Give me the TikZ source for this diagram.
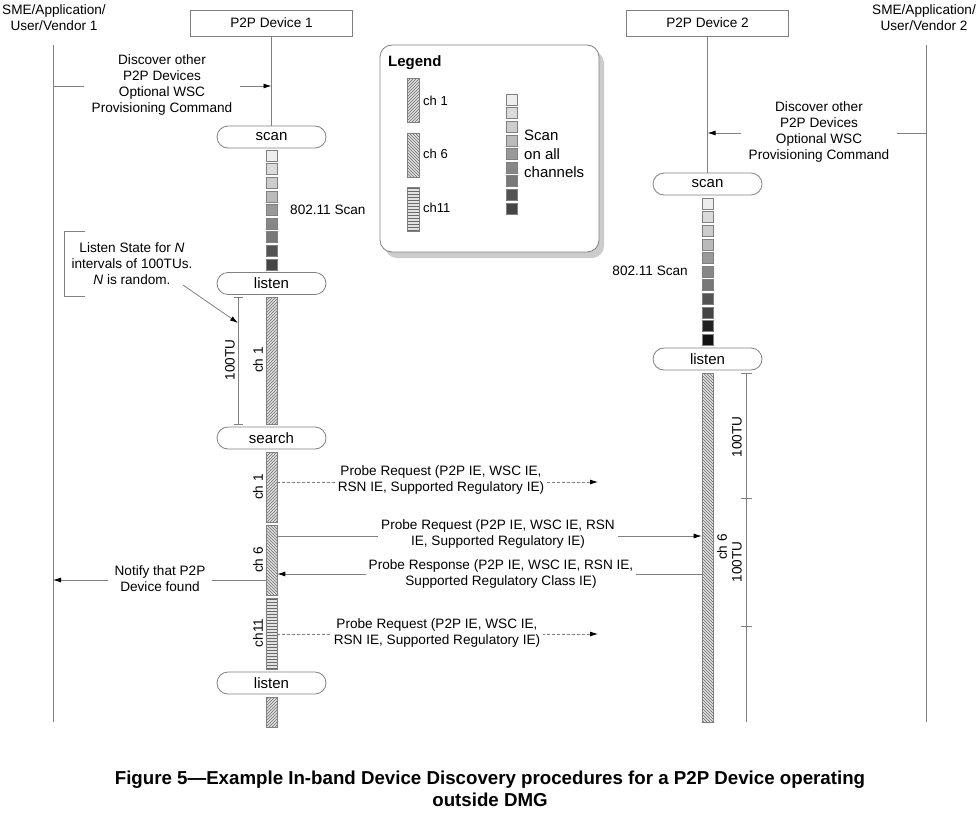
\documentclass[tikz,border=0pt]{standalone}
\usepackage{fontspec}
\setmainfont{Liberation Sans}
\usetikzlibrary{arrows.meta,patterns,shapes.misc}
\definecolor{lg}{HTML}{808080}
\definecolor{hatch}{HTML}{6A6A6A}
\definecolor{barbg}{HTML}{E2E2E2}
\newcommand\lblfont{\fontsize{13.6}{16}\selectfont}
\newcommand\boxfont{\fontsize{15}{17}\selectfont}
\newcommand\legfont{\fontsize{15}{18.5}\selectfont}
\newcommand\capfont{\fontsize{18.7}{22}\selectfont\bfseries}
\begin{document}
\begin{tikzpicture}[x=1pt,y=-1pt,
  life/.style={draw=lg, line width=0.8pt},
  msg/.style={draw=lg, line width=0.8pt, -{Latex[length=8pt,width=5pt,color=black,fill=black]}},
  dmsg/.style={msg, dash pattern=on 3pt off 2pt},
  lbl/.style={font=\lblfont, align=center, fill=white, inner xsep=3pt, inner ysep=1pt},
  txt/.style={font=\lblfont, align=center, inner sep=0pt},
  devbox/.style={draw=lg, line width=0.8pt, minimum width=162pt, minimum height=26pt, font=\lblfont, inner sep=0pt},
  state/.style={draw=lg, line width=0.8pt, rounded rectangle, minimum width=109pt, minimum height=22pt, font=\boxfont, inner sep=0pt},
  bar/.style={draw=lg, line width=0.6pt, minimum width=11pt, inner sep=0pt, anchor=north, preaction={fill=barbg}, pattern color=hatch},
  chA/.style={bar, pattern=north east lines},
  chB/.style={bar, pattern=north west lines},
  chC/.style={bar, pattern=horizontal lines},
  sq/.style={draw=lg, line width=0.6pt, minimum size=11pt, inner sep=0pt},
  rot/.style={font=\lblfont, rotate=90, inner sep=0pt}
]
\useasboundingbox (0,0) rectangle (979,819);

% ---------- headers ----------
\node[txt] (sme1) at (54,18) {SME/Application/\\User/Vendor 1};
\node[txt] (sme2) at (924,18) {SME/Application/\\User/Vendor 2};
\node[devbox] (dev1) at (271.5,23) {P2P Device 1};
\node[devbox] (dev2) at (707.5,23) {P2P Device 2};

% SME lifelines
\coordinate (s1t) at (53,45);  \coordinate (s1b) at (53,722);
\coordinate (s2t) at (926,45); \coordinate (s2b) at (926,722);
\draw[life] (s1t) -- (s1b);
\draw[life] (s2t) -- (s2b);

% ---------- Device 1 column ----------
\node[state] (scan1) at (271.5,137) {scan};
\draw[life] (dev1.south) -- (scan1.north);
\foreach \i/\k in {0/7,1/14,2/20,3/27,4/40,5/47,6/53,7/67,8/73}
  \node[sq, fill=black!\k] (sqa\i) at (271.5,{155.5+13.6*\i}) {};
\node[txt, anchor=west] (scantxt1) at (290,210) {802.11 Scan};
\node[state] (listen1) at (271.5,283.5) {listen};
\node[chA, minimum height=127pt] (ch1a) at (271.5,297) {};
\node[state] (search1) at (271.5,438) {search};
\node[chA, minimum height=70pt] (ch1b) at (271.5,452) {};
\node[chB, minimum height=70pt] (ch6a) at (271.5,525) {};
\node[chC, minimum height=71pt] (ch11a) at (271.5,598) {};
\node[state] (listen1b) at (271.5,683) {listen};
\node[chA, minimum height=30pt] (ch1c) at (271.5,697) {};

\node[rot] (lch1a) at (258,360) {ch 1};
\node[rot] (lch1b) at (258,487) {ch 1};
\node[rot] (lch6a) at (258,560) {ch 6};
\node[rot] (lch11a) at (258,633) {ch11};

% 100TU bracket device 1
\coordinate (b1t) at (238,297); \coordinate (b1b) at (238,424);
\draw[life] (b1t) -- (b1b);
\draw[life] ([xshift=-4.5pt]b1t) -- ([xshift=4.5pt]b1t);
\draw[life] ([xshift=-4.5pt]b1b) -- ([xshift=4.5pt]b1b);
\node[rot] (tu1) at (230,360) {100TU};

% listen note
\coordinate (nt1) at (85,231); \coordinate (nt2) at (64,231);
\coordinate (nt3) at (64,296); \coordinate (nt4) at (85,296);
\draw[life] (nt1) -- (nt2) -- (nt3) -- (nt4);
\node[txt] (note) at (132,264) {Listen State for \textit{N}\\intervals of 100TUs.\\\textit{N} is random.};
\coordinate (nsrc) at (183,285); \coordinate (b1m) at (238,323);
\draw[msg] (nsrc) -- (b1m);

% ---------- Device 2 column ----------
\node[state] (scan2) at (707.5,184) {scan};
\draw[life] (dev2.south) -- (scan2.north);
\foreach \i/\k in {0/7,1/14,2/20,3/27,4/40,5/47,6/53,7/67,8/73,9/87,10/93}
  \node[sq, fill=black!\k] (sqb\i) at (707.5,{203.5+13.6*\i}) {};
\node[txt, anchor=east] (scantxt2) at (688,271) {802.11 Scan};
\node[state] (listen2) at (707.5,359) {listen};
\node[chB, minimum height=349pt] (ch6b) at (707.5,373) {};
\node[rot] (lch6b) at (722,547) {ch 6};

% 100TU bracket device 2
\coordinate (b2t) at (746,373); \coordinate (b2m) at (746,498);
\coordinate (b2n) at (746,626); \coordinate (b2b) at (746,722);
\draw[life] (b2t) -- (b2b);
\foreach \c in {b2t,b2m,b2n}
  \draw[life] ([xshift=-5.5pt]\c) -- ([xshift=5.5pt]\c);
\node[rot] (tu2a) at (737,437) {100TU};
\node[rot] (tu2b) at (737,562) {100TU};

% ---------- messages ----------
\coordinate (m1s) at (53,86); \coordinate (m1e) at (271.5,86);
\draw[msg] (m1s) -- (m1e);
\node[lbl, inner xsep=8pt] (m1t) at (162,85) {Discover other\\P2P Devices\\Optional WSC\\Provisioning Command};

\coordinate (m2s) at (926,133); \coordinate (m2e) at (707.5,133);
\draw[msg] (m2s) -- (m2e);
\node[lbl, inner xsep=8pt] (m2t) at (819,132) {Discover other\\P2P Devices\\Optional WSC\\Provisioning Command};

\coordinate (y482) at (0,482); \coordinate (p1e) at (598,482);
\draw[dmsg] (ch1b.east |- y482) -- (p1e);
\node[lbl] (p1t) at (441,480) {Probe Request (P2P IE, WSC IE,\\RSN IE, Supported Regulatory IE)};

\coordinate (y536) at (0,536);
\draw[msg] (ch6a.east |- y536) -- (ch6b.west |- y536);
\node[lbl] (p2t) at (498,534) {Probe Request (P2P IE, WSC IE, RSN\\IE, Supported Regulatory IE)};

\coordinate (y574) at (0,574);
\draw[msg] (ch6b.west |- y574) -- (ch6a.east |- y574);
\node[lbl] (p3t) at (501,574) {Probe Response (P2P IE, WSC IE, RSN IE,\\Supported Regulatory Class IE)};

\coordinate (y580) at (0,580);
\draw[msg] (ch6a.west |- y580) -- (s1t |- y580);
\node[lbl, inner xsep=7pt] (ntf) at (160,579) {Notify that P2P\\Device found};

\coordinate (y634) at (0,634); \coordinate (p4e) at (598,634);
\draw[dmsg] (ch11a.east |- y634) -- (p4e);
\node[lbl] (p4t) at (437,633) {Probe Request (P2P IE, WSC IE,\\RSN IE, Supported Regulatory IE)};

% ---------- legend ----------
\fill[gray!40, rounded corners=12pt] (385,51) rectangle (604,258);
\draw[lg, line width=0.8pt, fill=white, rounded corners=12pt] (380,45) rectangle (599,252);
\node[font=\fontsize{15}{17}\selectfont\bfseries, anchor=west, inner sep=0pt] (legt) at (388,63) {Legend};
\node[chA, minimum height=44pt, minimum width=12pt] (lg1) at (413,78) {};
\node[chB, minimum height=44pt, minimum width=12pt] (lg6) at (413,133) {};
\node[chC, minimum height=44pt, minimum width=12pt] (lg11) at (413,187) {};
\node[font=\fontsize{13}{15}\selectfont, anchor=west, inner sep=0pt] (lgt1) at (423,101) {ch 1};
\node[font=\fontsize{13}{15}\selectfont, anchor=west, inner sep=0pt] (lgt6) at (423,154) {ch 6};
\node[font=\fontsize{13}{15}\selectfont, anchor=west, inner sep=0pt] (lgt11) at (423,208) {ch11};
\foreach \i/\k in {0/7,1/14,2/20,3/27,4/40,5/47,6/53,7/67,8/73}
  \node[sq, fill=black!\k] (sqc\i) at (511.5,{99.5+13.6*\i}) {};
\node[font=\legfont, align=left, anchor=west, inner sep=0pt] (lgscan) at (524,154) {Scan\\on all\\channels};

% ---------- caption ----------
\node[font=\capfont, align=center, inner sep=0pt] (cap) at (490,789) {Figure 5---Example In-band Device Discovery procedures for a P2P Device operating\\outside DMG};
\end{tikzpicture}
\end{document}
